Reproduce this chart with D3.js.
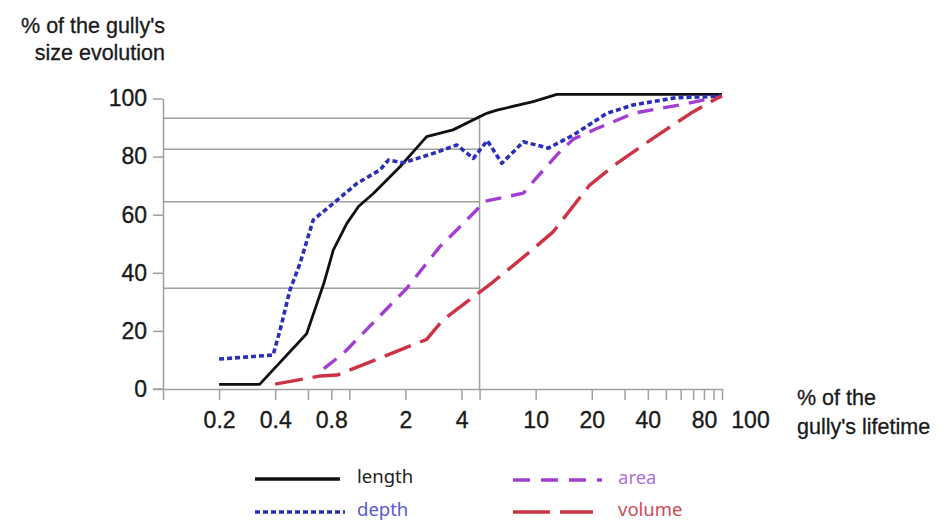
<!DOCTYPE html>
<html>
<head>
<meta charset="utf-8">
<script src="https://cdn.jsdelivr.net/npm/d3@7"></script>
<style>
  body { margin: 0; background: #fff; }
  svg { display: block; font-family: "Liberation Sans", Arial, sans-serif; }
</style>
</head>
<body>
<div id="chart"></div>
<script>
// values (x = % of lifetime, log scale; y = % of size)
const lengthX = [0.2, 0.33, 0.59, 0.68, 0.73, 0.82, 0.97, 1.12, 1.35, 1.87, 2.6, 3.6, 5.46, 6.2, 9.7, 13, 100];
const lengthY = [1.6, 1.6, 19, 30.6, 36.4, 47.8, 57, 62.8, 67.4, 76.5, 86.9, 89.2, 94.9, 96, 98.9, 101.4, 101.4];

const depthX = [0.2, 0.39, 0.425, 0.48, 0.544, 0.64, 0.82, 1.1, 1.46, 1.62, 1.95, 2.82, 3.77, 4.63, 5.5, 6.58, 8.6, 11.7, 15.9, 24.1, 33.4, 57, 86, 100];
const depthY = [10.3, 11.7, 20.3, 34, 43.3, 58.2, 63.9, 70.8, 75.4, 78.8, 77.9, 81.1, 84, 79.4, 85.5, 77.7, 85.1, 82.9, 87.4, 94.9, 97.8, 100.3, 100.6, 101];

const areaX = [0.73, 0.93, 2.03, 3.06, 3.62, 4.82, 5.2, 8.6, 9.7, 13, 15.9, 21, 25, 33.4, 46.5, 62, 100];
const areaY = [7, 12.3, 34.6, 49, 53.6, 61.6, 64.5, 67.4, 71.4, 80.6, 86, 89.5, 91.5, 94.9, 96.6, 98, 100.8];

const volumeX = [0.4, 0.7, 0.86, 1.52, 2.6, 3.18, 5.2, 5.92, 9.33, 12.4, 19.5, 26.5, 42.6, 67.9, 93.6, 100];
const volumeY = [1.7, 4.5, 4.8, 11.1, 17.1, 23.8, 34.1, 36.9, 47.3, 54.1, 70.2, 77.1, 86.3, 94.9, 100, 100.8];

// reference lines at 5 % of lifetime
const refX = 5;
const refLevels = [93.2, 82.5, 64.5, 34.7];

const xTicks = [0.1, 0.2, 0.4, 0.6, 0.8, 1, 2, 4, 5, 10, 20, 30, 40, 50, 60, 70, 80, 90, 100];
const xLabels = [0.2, 0.4, 0.8, 2, 4, 10, 20, 40, 80, 100];
const yTicks = [0, 20, 40, 60, 80, 100];

const series = [
  { name: "length", xs: lengthX, ys: lengthY, color: "#111111", text: "#222222", dash: null, width: 2.8 },
  { name: "depth", xs: depthX, ys: depthY, color: "#2b2fb8", text: "#5a5acc", dash: "5,3", width: 3.6 },
  { name: "area", xs: areaX, ys: areaY, color: "#a23fd2", text: "#b070d6", dash: "16,10", width: 3.4 },
  { name: "volume", xs: volumeX, ys: volumeY, color: "#cc3344", text: "#cc4a58", dash: "28,10", width: 3.4 },
];

const width = 941, height = 522;

const svg = d3.select("#chart").append("svg")
  .attr("width", width)
  .attr("height", height);

const x = d3.scaleLog().domain([0.1, 100]).range([163, 722]);
const y = d3.scaleLinear().domain([0, 100]).range([389, 98.5]);

const gray = "#a0a0a0";
const textFont = '"Liberation Sans", Arial, sans-serif';

// gray guide lines
svg.append("g")
  .selectAll("line")
  .data(refLevels)
  .join("line")
  .attr("x1", x(0.1))
  .attr("x2", x(refX))
  .attr("y1", (d) => y(d))
  .attr("y2", (d) => y(d))
  .attr("stroke", gray)
  .attr("stroke-width", 1.5);

svg.append("line")
  .attr("x1", x(refX)).attr("x2", x(refX))
  .attr("y1", y(0)).attr("y2", y(d3.max(refLevels)))
  .attr("stroke", gray)
  .attr("stroke-width", 1.5);

// axes
const xAxis = svg.append("g")
  .attr("transform", `translate(0,${y(0)})`)
  .call(
    d3.axisBottom(x)
      .tickValues(xTicks)
      .tickSize(11)
      .tickSizeOuter(0)
      .tickPadding(12)
      .tickFormat((d) => (xLabels.includes(d) ? String(d) : ""))
  );

const yAxis = svg.append("g")
  .attr("transform", `translate(${x(0.1)},0)`)
  .call(d3.axisLeft(y).tickValues(yTicks).tickSize(10).tickSizeOuter(0).tickPadding(6));

[xAxis, yAxis].forEach((g) => {
  g.select(".domain").attr("stroke", gray).attr("stroke-width", 1.5);
  g.selectAll(".tick line").attr("stroke", gray).attr("stroke-width", 1.5);
  g.selectAll(".tick text")
    .attr("fill", "#1a1a1a")
    .attr("stroke", "#1a1a1a")
    .attr("stroke-width", 0.35)
    .style("font-size", "23px")
    .style("font-family", textFont);
});

// "100" sits to the right of its tick in the original
xAxis.selectAll(".tick text").filter((d) => d === 100).attr("dx", 28);

// x axis extends a little left of the y axis
svg.append("line")
  .attr("x1", x(0.1) - 10).attr("x2", x(0.1))
  .attr("y1", y(0)).attr("y2", y(0))
  .attr("stroke", gray).attr("stroke-width", 1.5);

// curves
const line = d3.line()
  .x((d) => x(d[0]))
  .y((d) => y(d[1]));

const drawOrder = ["area", "length", "depth", "volume"];
drawOrder.forEach((name) => {
  const s = series.find((k) => k.name === name);
  svg.append("path")
    .datum(s.xs.map((v, i) => [v, s.ys[i]]))
    .attr("fill", "none")
    .attr("stroke", s.color)
    .attr("stroke-width", s.width)
    .attr("stroke-dasharray", s.dash)
    .attr("stroke-linejoin", "round")
    .attr("d", line);
});

// axis titles
const yTitle = svg.append("text")
  .attr("text-anchor", "end")
  .attr("fill", "#1a1a1a")
  .attr("stroke", "#1a1a1a")
  .attr("stroke-width", 0.3)
  .style("font-size", "21.5px")
  .style("font-family", textFont);
yTitle.append("tspan").attr("x", 165).attr("y", 33).text("% of the gully's");
yTitle.append("tspan").attr("x", 165).attr("y", 60).text("size evolution");

const xTitle = svg.append("text")
  .attr("fill", "#1a1a1a")
  .attr("stroke", "#1a1a1a")
  .attr("stroke-width", 0.3)
  .style("font-size", "21.5px")
  .style("font-family", textFont);
xTitle.append("tspan").attr("x", 797).attr("y", 405).text("% of the");
xTitle.append("tspan").attr("x", 797).attr("y", 434).text("gully's lifetime");

// legend
const legendPos = [
  { name: "length", x: 255, y: 479, len: 85 },
  { name: "depth", x: 255, y: 512, len: 90 },
  { name: "area", x: 513, y: 480, len: 89 },
  { name: "volume", x: 513, y: 512, len: 80 },
];

const legend = svg.append("g")
  .selectAll("g")
  .data(legendPos)
  .join("g")
  .attr("transform", (d) => `translate(${d.x},${d.y})`);

legend.append("line")
  .attr("x1", 0)
  .attr("x2", (d) => d.len)
  .attr("stroke", (d) => series.find((s) => s.name === d.name).color)
  .attr("stroke-width", (d) => (d.name === "length" ? 3.4 : 3.6))
  .attr("stroke-dasharray", (d) => {
    const s = series.find((k) => k.name === d.name);
    if (d.name === "area") return "17,11";
    if (d.name === "volume") return "37,10";
    return s.dash;
  });

legend.append("text")
  .attr("x", (d) => (d.name === "area" || d.name === "volume" ? 105 : 102))
  .attr("dy", "0.32em")
  .attr("y", -2)
  .attr("fill", (d) => series.find((s) => s.name === d.name).text)
  .style("font-size", "18.5px")
  .style("font-family", '"Noto Sans", "Open Sans", sans-serif')
  .text((d) => d.name);
</script>
</body>
</html>
